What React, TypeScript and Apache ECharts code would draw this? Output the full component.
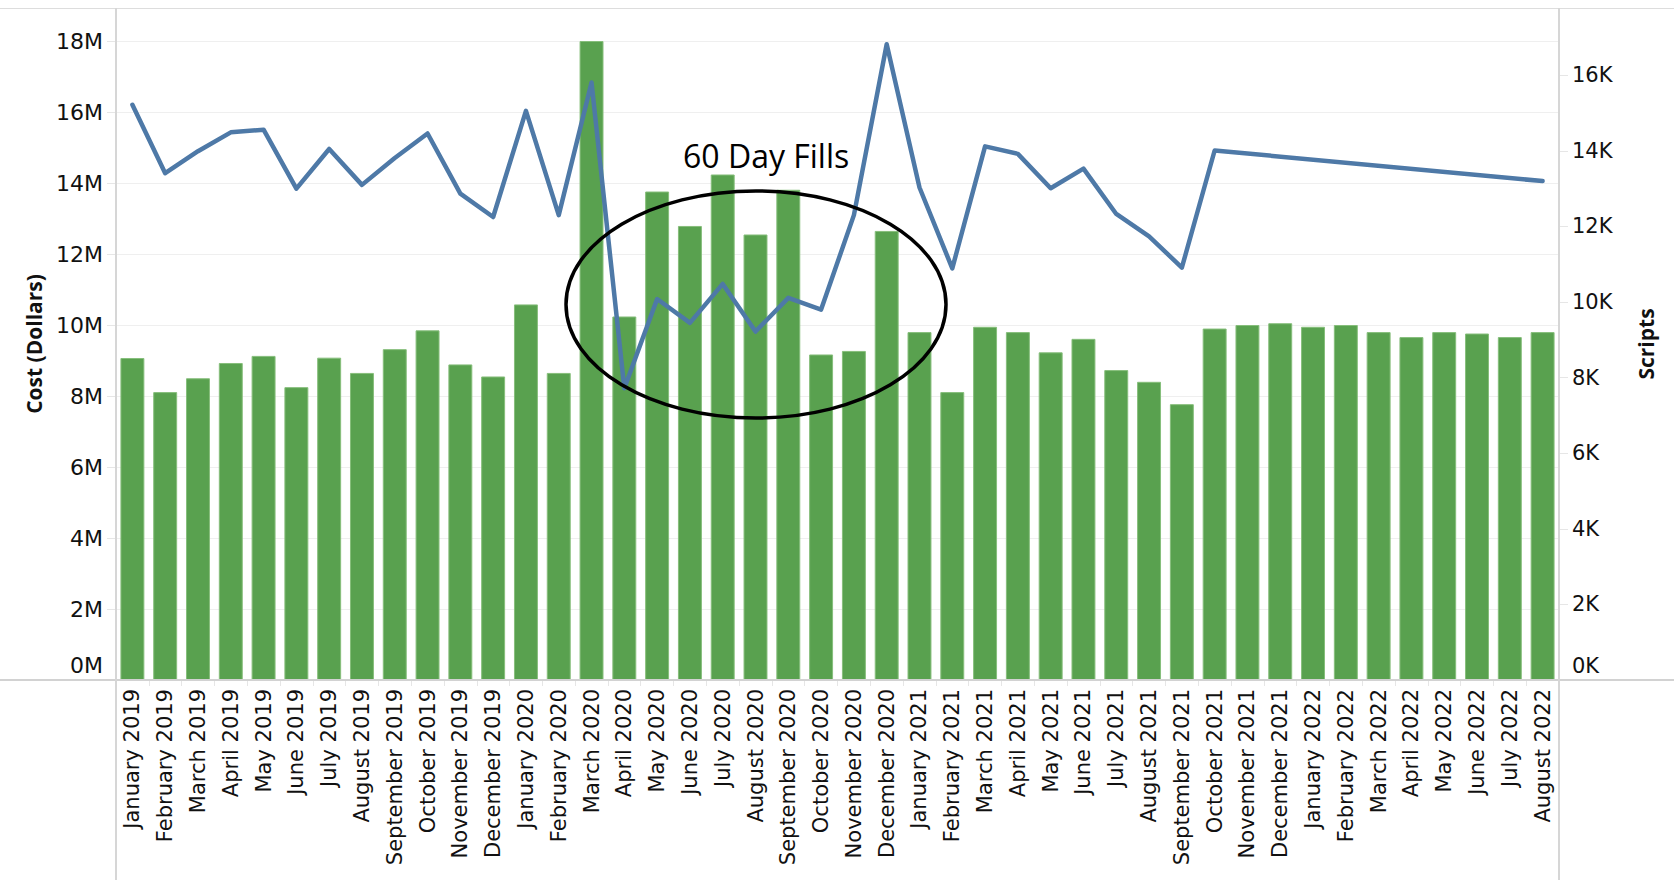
import React, { useEffect, useRef } from "react";
import * as echarts from "echarts";

const categories = [
  "January 2019", "February 2019", "March 2019", "April 2019", "May 2019", "June 2019",
  "July 2019", "August 2019", "September 2019", "October 2019", "November 2019", "December 2019",
  "January 2020", "February 2020", "March 2020", "April 2020", "May 2020", "June 2020",
  "July 2020", "August 2020", "September 2020", "October 2020", "November 2020", "December 2020",
  "January 2021", "February 2021", "March 2021", "April 2021", "May 2021", "June 2021",
  "July 2021", "August 2021", "September 2021", "October 2021", "November 2021", "December 2021",
  "January 2022", "February 2022", "March 2022", "April 2022", "May 2022", "June 2022",
  "July 2022", "August 2022",
];

// Cost in dollars (bars, left axis)
const costDollars = [
  9070000, 8110000, 8500000, 8930000, 9130000, 8250000, 9080000, 8650000, 9320000, 9850000, 8890000, 8550000,
  10580000, 8650000, 18000000, 10240000, 13760000, 12790000, 14240000, 12550000, 13810000, 9170000, 9270000, 12650000,
  9800000, 8110000, 9950000, 9800000, 9230000, 9610000, 8730000, 8400000, 7770000, 9900000, 10000000, 10050000,
  9950000, 10000000, 9800000, 9660000, 9800000, 9760000, 9660000, 9800000,
];

// Scripts (line, right axis); missing months are null and the line connects across them
const scripts: (number | null)[] = [
  15220, 13410, 13990, 14490, 14560, 13000, 14050, 13100, 13810, 14460, 12870, 12250,
  15060, 12300, 15810, 7720, 10080, 9450, 10480, 9220, 10110, 9800, 12300, 16820,
  13030, 10890, 14120, 13920, 13010, 13530, 12330, 11740, 10910, 14010, null, null,
  null, null, null, null, null, null, null, 13200,
];

const costAxisMax = 18930000;
const costAxisStep = 2000000;
const scriptsAxisMax = 17780;
const scriptsAxisStep = 2000;
const annotationText = "60 Day Fills";

const labelFont = "DejaVu Sans";
const titleFont = "Open Sans";
const textColor = "#111111";

export default function App() {
  const ref = useRef<HTMLDivElement>(null);

  useEffect(() => {
    if (!ref.current) return;
    const chart = echarts.init(ref.current, undefined, { renderer: "svg" });
    const W = 1674;
    const H = 880;
    const gridLeft = 116;
    const gridRight = 1559;
    const gridTop = 8;
    const gridBottom = 680;

    const option: any = {
      animation: false,
      backgroundColor: "#ffffff",
      textStyle: { fontFamily: labelFont },
      grid: {
        left: gridLeft,
        right: W - gridRight,
        top: gridTop,
        bottom: H - gridBottom,
        containLabel: false,
      },
      xAxis: {
        type: "category",
        data: categories,
        axisLine: { show: false },
        axisTick: { show: true, length: 6, lineStyle: { color: "#e6e6e6" } },
        axisLabel: {
          rotate: 90,
          interval: 0,
          margin: 9,
          fontSize: 21,
          fontFamily: labelFont,
          color: textColor,
        },
      },
      yAxis: [
        {
          type: "value",
          position: "left",
          min: 0,
          max: costAxisMax,
          interval: costAxisStep,
          name: "Cost (Dollars)",
          nameLocation: "middle",
          nameRotate: 90,
          nameGap: 72,
          nameTextStyle: { fontFamily: titleFont, fontWeight: "bold", fontSize: 21, color: textColor },
          axisLine: { show: false },
          axisTick: { show: true, length: 9, lineStyle: { color: "#e6e6e6" } },
          axisLabel: {
            margin: 13,
            fontSize: 22,
            fontFamily: labelFont,
            color: textColor,
            showMaxLabel: false,
            formatter: (v: number) =>
              v === 0 ? "{z|0M}" : `${Math.round(v / 1e6)}M`,
            rich: {
              z: { padding: [0, 0, 29, 0], fontSize: 22, fontFamily: labelFont, color: textColor },
            },
          },
          splitLine: { show: true, lineStyle: { color: "#efefef", width: 1 } },
        },
        {
          type: "value",
          position: "right",
          min: 0,
          max: scriptsAxisMax,
          interval: scriptsAxisStep,
          name: "Scripts",
          nameLocation: "middle",
          nameRotate: 90,
          nameGap: 76,
          nameTextStyle: { fontFamily: titleFont, fontWeight: "bold", fontSize: 21, color: textColor },
          axisLine: { show: false },
          axisTick: { show: true, length: 9, lineStyle: { color: "#e6e6e6" } },
          axisLabel: {
            margin: 13,
            fontSize: 21,
            fontFamily: labelFont,
            color: textColor,
            showMaxLabel: false,
            formatter: (v: number) =>
              v === 0 ? "{z|0K}" : `${Math.round(v / 1000)}K`,
            rich: {
              z: { padding: [0, 0, 29, 0], fontSize: 21, fontFamily: labelFont, color: textColor },
            },
          },
          splitLine: { show: false },
        },
      ],
      series: [
        {
          name: "Cost",
          type: "bar",
          yAxisIndex: 0,
          data: costDollars,
          barCategoryGap: "27%",
          itemStyle: { color: "#59a14f", borderColor: "#86be7b", borderWidth: 1 },
          z: 2,
        },
        {
          name: "Scripts",
          type: "line",
          yAxisIndex: 1,
          data: scripts,
          connectNulls: true,
          showSymbol: false,
          symbol: "none",
          lineStyle: { color: "#4e79a7", width: 4.5, cap: "round", join: "round" },
          z: 5,
        },
      ],
      graphic: [
        {
          type: "line",
          silent: true,
          z: 50,
          shape: { x1: 0, y1: gridTop + 0.5, x2: W, y2: gridTop + 0.5 },
          style: { stroke: "#dddddd", lineWidth: 1 },
        },
        {
          type: "line",
          silent: true,
          z: 50,
          shape: { x1: 0, y1: gridBottom, x2: W, y2: gridBottom },
          style: { stroke: "#d2d2d2", lineWidth: 2 },
        },
        {
          type: "line",
          silent: true,
          z: 50,
          shape: { x1: gridLeft, y1: gridTop, x2: gridLeft, y2: H },
          style: { stroke: "#d6d6d6", lineWidth: 2 },
        },
        {
          type: "line",
          silent: true,
          z: 50,
          shape: { x1: gridRight, y1: gridTop, x2: gridRight, y2: H },
          style: { stroke: "#d6d6d6", lineWidth: 2 },
        },
        {
          type: "ellipse",
          silent: true,
          z: 100,
          shape: { cx: 756, cy: 304.5, rx: 190, ry: 113.5 },
          style: { fill: "none", stroke: "#000000", lineWidth: 3.5 },
        },
        {
          type: "text",
          silent: true,
          z: 100,
          x: 683,
          y: 155.5,
          style: {
            text: annotationText,
            fontFamily: titleFont,
            fontSize: 32,
            fill: "#000000",
            align: "left",
            verticalAlign: "middle",
          },
        },
      ],
    };

    chart.setOption(option);
    return () => chart.dispose();
  }, []);

  return (
    <div
      ref={ref}
      style={{ position: "fixed", left: 0, top: 0, width: 1674, height: 880, background: "#fff" }}
    />
  );
}
